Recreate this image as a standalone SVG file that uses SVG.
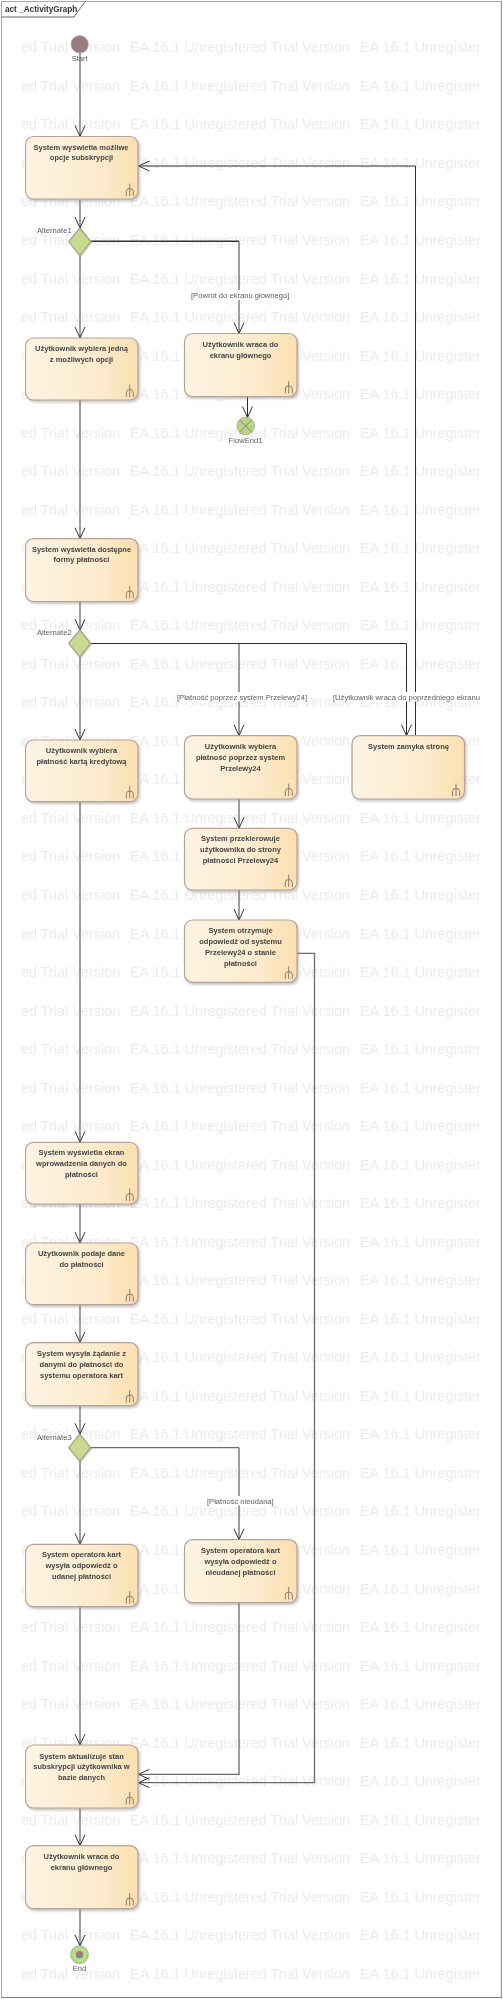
<svg xmlns="http://www.w3.org/2000/svg" width="503" height="1999" viewBox="0 0 503 1999">
<style>
text{font-family:"Liberation Sans",Arial,sans-serif}
.wm{font-family:"Open Sans","Noto Sans",sans-serif;font-size:14.4px;fill:#ebebeb}
.box{fill:url(#g);stroke:#b5a298;stroke-width:1.2;filter:url(#sh)}
.t{font-size:7.5px;font-weight:bold;fill:#444;text-anchor:middle}
.l{font-size:7.6px;fill:#5c5c66}
.m{text-anchor:middle}
.fork{fill:none;stroke:#8d7c72;stroke-width:1}
.c{fill:none;stroke:#6a6a6a;stroke-width:1.3}
.d{fill:none;stroke:#2c2c2c;stroke-width:1}
.h{fill:none;stroke:#333;stroke-width:1.5}
.e{marker-end:url(#a)}
.bg{fill:#fff}
.dia{fill:#c6da90;stroke:#a89f88;stroke-width:1.2;filter:url(#sh2)}
</style>
<defs>
<linearGradient id="g" x1="0" x2="1" y1="0" y2="0"><stop offset="0" stop-color="#fdf4e2"/><stop offset="0.65" stop-color="#fcebcd"/><stop offset="1" stop-color="#fbdfb0"/></linearGradient>
<filter id="sh" x="-10%" y="-10%" width="125%" height="125%"><feDropShadow dx="1.5" dy="2" stdDeviation="1" flood-color="#888" flood-opacity="0.45"/></filter>
<filter id="sh2" x="-20%" y="-20%" width="150%" height="150%"><feDropShadow dx="1" dy="1" stdDeviation="0.7" flood-color="#888" flood-opacity="0.4"/></filter>
<filter id="soft" x="0" y="0" width="100%" height="100%"><feGaussianBlur stdDeviation="0.3"/></filter>
<clipPath id="wc"><rect x="21" y="0" width="461" height="1999"/></clipPath>
<clipPath id="lc"><rect x="0" y="0" width="482" height="1999"/></clipPath>
<marker id="a" markerUnits="userSpaceOnUse" markerWidth="14" markerHeight="14" refX="11.5" refY="6" orient="auto"><path d="M0.5 1 L11.5 6 L0.5 11" fill="none" stroke="#333" stroke-width="1"/></marker>
</defs>
<rect width="503" height="1999" fill="#fff"/>
<g filter="url(#soft)">
<g id="watermark" class="wm" clip-path="url(#wc)">
<text y="52.3"><tspan x="21">ed Trial Version</tspan><tspan x="130">EA 16.1 Unregistered Trial Version</tspan><tspan x="360">EA 16.1 Unregister</tspan></text>
<text y="90.8"><tspan x="21">ed Trial Version</tspan><tspan x="130">EA 16.1 Unregistered Trial Version</tspan><tspan x="360">EA 16.1 Unregister</tspan></text>
<text y="129.4"><tspan x="21">ed Trial Version</tspan><tspan x="130">EA 16.1 Unregistered Trial Version</tspan><tspan x="360">EA 16.1 Unregister</tspan></text>
<text y="167.9"><tspan x="21">ed Trial Version</tspan><tspan x="130">EA 16.1 Unregistered Trial Version</tspan><tspan x="360">EA 16.1 Unregister</tspan></text>
<text y="206.4"><tspan x="21">ed Trial Version</tspan><tspan x="130">EA 16.1 Unregistered Trial Version</tspan><tspan x="360">EA 16.1 Unregister</tspan></text>
<text y="245"><tspan x="21">ed Trial Version</tspan><tspan x="130">EA 16.1 Unregistered Trial Version</tspan><tspan x="360">EA 16.1 Unregister</tspan></text>
<text y="283.5"><tspan x="21">ed Trial Version</tspan><tspan x="130">EA 16.1 Unregistered Trial Version</tspan><tspan x="360">EA 16.1 Unregister</tspan></text>
<text y="322"><tspan x="21">ed Trial Version</tspan><tspan x="130">EA 16.1 Unregistered Trial Version</tspan><tspan x="360">EA 16.1 Unregister</tspan></text>
<text y="360.5"><tspan x="21">ed Trial Version</tspan><tspan x="130">EA 16.1 Unregistered Trial Version</tspan><tspan x="360">EA 16.1 Unregister</tspan></text>
<text y="399.1"><tspan x="21">ed Trial Version</tspan><tspan x="130">EA 16.1 Unregistered Trial Version</tspan><tspan x="360">EA 16.1 Unregister</tspan></text>
<text y="437.6"><tspan x="21">ed Trial Version</tspan><tspan x="130">EA 16.1 Unregistered Trial Version</tspan><tspan x="360">EA 16.1 Unregister</tspan></text>
<text y="476.1"><tspan x="21">ed Trial Version</tspan><tspan x="130">EA 16.1 Unregistered Trial Version</tspan><tspan x="360">EA 16.1 Unregister</tspan></text>
<text y="514.7"><tspan x="21">ed Trial Version</tspan><tspan x="130">EA 16.1 Unregistered Trial Version</tspan><tspan x="360">EA 16.1 Unregister</tspan></text>
<text y="553.2"><tspan x="21">ed Trial Version</tspan><tspan x="130">EA 16.1 Unregistered Trial Version</tspan><tspan x="360">EA 16.1 Unregister</tspan></text>
<text y="591.7"><tspan x="21">ed Trial Version</tspan><tspan x="130">EA 16.1 Unregistered Trial Version</tspan><tspan x="360">EA 16.1 Unregister</tspan></text>
<text y="630.3"><tspan x="21">ed Trial Version</tspan><tspan x="130">EA 16.1 Unregistered Trial Version</tspan><tspan x="360">EA 16.1 Unregister</tspan></text>
<text y="668.8"><tspan x="21">ed Trial Version</tspan><tspan x="130">EA 16.1 Unregistered Trial Version</tspan><tspan x="360">EA 16.1 Unregister</tspan></text>
<text y="707.3"><tspan x="21">ed Trial Version</tspan><tspan x="130">EA 16.1 Unregistered Trial Version</tspan><tspan x="360">EA 16.1 Unregister</tspan></text>
<text y="745.8"><tspan x="21">ed Trial Version</tspan><tspan x="130">EA 16.1 Unregistered Trial Version</tspan><tspan x="360">EA 16.1 Unregister</tspan></text>
<text y="784.4"><tspan x="21">ed Trial Version</tspan><tspan x="130">EA 16.1 Unregistered Trial Version</tspan><tspan x="360">EA 16.1 Unregister</tspan></text>
<text y="822.9"><tspan x="21">ed Trial Version</tspan><tspan x="130">EA 16.1 Unregistered Trial Version</tspan><tspan x="360">EA 16.1 Unregister</tspan></text>
<text y="861.4"><tspan x="21">ed Trial Version</tspan><tspan x="130">EA 16.1 Unregistered Trial Version</tspan><tspan x="360">EA 16.1 Unregister</tspan></text>
<text y="900"><tspan x="21">ed Trial Version</tspan><tspan x="130">EA 16.1 Unregistered Trial Version</tspan><tspan x="360">EA 16.1 Unregister</tspan></text>
<text y="938.5"><tspan x="21">ed Trial Version</tspan><tspan x="130">EA 16.1 Unregistered Trial Version</tspan><tspan x="360">EA 16.1 Unregister</tspan></text>
<text y="977"><tspan x="21">ed Trial Version</tspan><tspan x="130">EA 16.1 Unregistered Trial Version</tspan><tspan x="360">EA 16.1 Unregister</tspan></text>
<text y="1015.6"><tspan x="21">ed Trial Version</tspan><tspan x="130">EA 16.1 Unregistered Trial Version</tspan><tspan x="360">EA 16.1 Unregister</tspan></text>
<text y="1054.1"><tspan x="21">ed Trial Version</tspan><tspan x="130">EA 16.1 Unregistered Trial Version</tspan><tspan x="360">EA 16.1 Unregister</tspan></text>
<text y="1092.6"><tspan x="21">ed Trial Version</tspan><tspan x="130">EA 16.1 Unregistered Trial Version</tspan><tspan x="360">EA 16.1 Unregister</tspan></text>
<text y="1131.1"><tspan x="21">ed Trial Version</tspan><tspan x="130">EA 16.1 Unregistered Trial Version</tspan><tspan x="360">EA 16.1 Unregister</tspan></text>
<text y="1169.7"><tspan x="21">ed Trial Version</tspan><tspan x="130">EA 16.1 Unregistered Trial Version</tspan><tspan x="360">EA 16.1 Unregister</tspan></text>
<text y="1208.2"><tspan x="21">ed Trial Version</tspan><tspan x="130">EA 16.1 Unregistered Trial Version</tspan><tspan x="360">EA 16.1 Unregister</tspan></text>
<text y="1246.7"><tspan x="21">ed Trial Version</tspan><tspan x="130">EA 16.1 Unregistered Trial Version</tspan><tspan x="360">EA 16.1 Unregister</tspan></text>
<text y="1285.3"><tspan x="21">ed Trial Version</tspan><tspan x="130">EA 16.1 Unregistered Trial Version</tspan><tspan x="360">EA 16.1 Unregister</tspan></text>
<text y="1323.8"><tspan x="21">ed Trial Version</tspan><tspan x="130">EA 16.1 Unregistered Trial Version</tspan><tspan x="360">EA 16.1 Unregister</tspan></text>
<text y="1362.3"><tspan x="21">ed Trial Version</tspan><tspan x="130">EA 16.1 Unregistered Trial Version</tspan><tspan x="360">EA 16.1 Unregister</tspan></text>
<text y="1400.9"><tspan x="21">ed Trial Version</tspan><tspan x="130">EA 16.1 Unregistered Trial Version</tspan><tspan x="360">EA 16.1 Unregister</tspan></text>
<text y="1439.4"><tspan x="21">ed Trial Version</tspan><tspan x="130">EA 16.1 Unregistered Trial Version</tspan><tspan x="360">EA 16.1 Unregister</tspan></text>
<text y="1477.9"><tspan x="21">ed Trial Version</tspan><tspan x="130">EA 16.1 Unregistered Trial Version</tspan><tspan x="360">EA 16.1 Unregister</tspan></text>
<text y="1516.4"><tspan x="21">ed Trial Version</tspan><tspan x="130">EA 16.1 Unregistered Trial Version</tspan><tspan x="360">EA 16.1 Unregister</tspan></text>
<text y="1555"><tspan x="21">ed Trial Version</tspan><tspan x="130">EA 16.1 Unregistered Trial Version</tspan><tspan x="360">EA 16.1 Unregister</tspan></text>
<text y="1593.5"><tspan x="21">ed Trial Version</tspan><tspan x="130">EA 16.1 Unregistered Trial Version</tspan><tspan x="360">EA 16.1 Unregister</tspan></text>
<text y="1632"><tspan x="21">ed Trial Version</tspan><tspan x="130">EA 16.1 Unregistered Trial Version</tspan><tspan x="360">EA 16.1 Unregister</tspan></text>
<text y="1670.6"><tspan x="21">ed Trial Version</tspan><tspan x="130">EA 16.1 Unregistered Trial Version</tspan><tspan x="360">EA 16.1 Unregister</tspan></text>
<text y="1709.1"><tspan x="21">ed Trial Version</tspan><tspan x="130">EA 16.1 Unregistered Trial Version</tspan><tspan x="360">EA 16.1 Unregister</tspan></text>
<text y="1747.6"><tspan x="21">ed Trial Version</tspan><tspan x="130">EA 16.1 Unregistered Trial Version</tspan><tspan x="360">EA 16.1 Unregister</tspan></text>
<text y="1786.2"><tspan x="21">ed Trial Version</tspan><tspan x="130">EA 16.1 Unregistered Trial Version</tspan><tspan x="360">EA 16.1 Unregister</tspan></text>
<text y="1824.7"><tspan x="21">ed Trial Version</tspan><tspan x="130">EA 16.1 Unregistered Trial Version</tspan><tspan x="360">EA 16.1 Unregister</tspan></text>
<text y="1863.2"><tspan x="21">ed Trial Version</tspan><tspan x="130">EA 16.1 Unregistered Trial Version</tspan><tspan x="360">EA 16.1 Unregister</tspan></text>
<text y="1901.7"><tspan x="21">ed Trial Version</tspan><tspan x="130">EA 16.1 Unregistered Trial Version</tspan><tspan x="360">EA 16.1 Unregister</tspan></text>
<text y="1940.3"><tspan x="21">ed Trial Version</tspan><tspan x="130">EA 16.1 Unregistered Trial Version</tspan><tspan x="360">EA 16.1 Unregister</tspan></text>
<text y="1978.8"><tspan x="21">ed Trial Version</tspan><tspan x="130">EA 16.1 Unregistered Trial Version</tspan><tspan x="360">EA 16.1 Unregister</tspan></text>
</g>
<g id="frame">
<path d="M1.2 1.2H501.5M1.2 1.2V1998" fill="none" stroke="#aaa" stroke-width="1.6"/>
<path d="M501.5 1.2V1998" fill="none" stroke="#999" stroke-width="1.4"/>
<path d="M1.2 1998H501.5" fill="none" stroke="#555" stroke-width="1.4"/>
<path d="M1.2 17H74L85.3 1.2" fill="none" stroke="#666" stroke-width="1"/>
<text x="5" y="11.7" font-size="8.2" font-weight="bold" fill="#333">act _ActivityGraph</text>
</g>
</g>
<g id="connectors">
<path class="c e" d="M80 53V136.5"/>
<path class="c e" d="M80 199V228"/>
<path class="c e" d="M80 255.5V338"/>
<path class="h" d="M90.5 241.3H239"/>
<path class="c e" d="M239 241.3V333.5"/>
<path class="d e" d="M247.5 396.5V417.5"/>
<path class="c e" d="M80 400V538.7"/>
<path class="c e" d="M80 601.5V630"/>
<path class="c e" d="M80 657V740"/>
<path class="d" d="M90.5 643.5H406.5"/>
<path class="c e" d="M239 643.5V735.7"/>
<path class="d e" d="M406.5 643.5V735.7"/>
<path class="d" d="M415.5 735.7V166"/>
<path class="d e" d="M415.5 166H138.5"/>
<path class="c e" d="M239 799V828.3"/>
<path class="c e" d="M239 890V920"/>
<path class="c e" d="M297 953.3H314.5V1782.7H138.5"/>
<path class="c e" d="M80 801.7V1142.3"/>
<path class="c e" d="M80 1204V1243"/>
<path class="c e" d="M80 1304.7V1342.7"/>
<path class="c e" d="M80 1405.7V1434.3"/>
<path class="c e" d="M80 1461V1544.3"/>
<path class="c" d="M90.5 1447.7H239"/>
<path class="c e" d="M239 1447.7V1539.7"/>
<path class="c e" d="M239 1602.7V1774.3H138.5"/>
<path class="c e" d="M80 1606.7V1745"/>
<path class="c e" d="M80 1808V1845.7"/>
<path class="c e" d="M80 1908.7V1946"/>
</g>
<g filter="url(#soft)">
<g id="connector-labels">
<rect class="bg" x="190" y="290" width="103" height="10"/>
<text class="l" x="191" y="298">[Powrót do ekranu głównego]</text>
<rect class="bg" x="176" y="692" width="132" height="9.5"/>
<text class="l" x="177" y="700">[Płatność poprzez system Przelewy24]</text>
<rect class="bg" x="332" y="692" width="150" height="9.5"/>
<text class="l" x="333" y="700" clip-path="url(#lc)">[Użytkownik wraca do poprzedniego ekranu</text>
<rect class="bg" x="206" y="1496" width="69" height="9.5"/>
<text class="l" x="207" y="1504">[Płatność nieudana]</text>
</g>
<g id="start"><circle cx="79.7" cy="44.3" r="8.7" fill="#977b80" stroke="#b8a8a8" stroke-width="0.8"/><text class="l m" x="79.7" y="61">Start</text></g>
<g id="n1"><rect class="box" x="25.5" y="136.5" width="112.5" height="62.5" rx="8"/><text class="t" x="81" y="149.5">System wyświetla możliwe</text><text class="t" x="81.5" y="160">opcje subskrypcji</text><path class="fork" d="M129.7 183.5V196M126.3 196V191.5Q126.3 188.5 129.7 188.5Q133.3 188.5 133.3 191.5V196"/></g>
<g id="d1"><polygon class="dia" points="79.7,228 90.7,241.5 79.7,255.5 68.7,241.5"/><text class="l" x="37" y="233">Alternate1</text></g>
<g id="n2"><rect class="box" x="25.5" y="338" width="112.5" height="62" rx="8"/><text class="t" x="81.5" y="350.5">Użytkownik wybiera jedną</text><text class="t" x="81.5" y="361.5">z możliwych opcji</text><path class="fork" d="M129.7 384.5V397M126.3 397V392.5Q126.3 389.5 129.7 389.5Q133.3 389.5 133.3 392.5V397"/></g>
<g id="n2b"><rect class="box" x="184.5" y="333.5" width="112.5" height="63" rx="8"/><text class="t" x="240.5" y="346.5">Użytkownik wraca do</text><text class="t" x="240.5" y="357.5">ekranu głównego</text><path class="fork" d="M288.7 381V393.5M285.3 393.5V389Q285.3 386 288.7 386Q292.3 386 292.3 389V393.5"/></g>
<g id="flowend1"><circle cx="245.7" cy="426" r="8.8" fill="#b5d684" stroke="#a8a88c" stroke-width="0.8"/><path d="M239.5 419.8L251.9 432.2M251.9 419.8L239.5 432.2" stroke="#8d7c72" stroke-width="1"/><text class="l m" x="245.5" y="442.5">FlowEnd1</text></g>
<g id="n3"><rect class="box" x="25.5" y="538.7" width="112.5" height="62.8" rx="8"/><text class="t" x="81.5" y="551.5">System wyświetla dostępne</text><text class="t" x="81.5" y="562">formy płatności</text><path class="fork" d="M129.7 586V598.5M126.3 598.5V594Q126.3 591 129.7 591Q133.3 591 133.3 594V598.5"/></g>
<g id="d2"><polygon class="dia" points="79.7,630 90.7,643.3 79.7,657 68.7,643.3"/><text class="l" x="37" y="635">Alternate2</text></g>
<g id="n4"><rect class="box" x="25.5" y="740" width="112.5" height="61.7" rx="8"/><text class="t" x="81.5" y="752.5">Użytkownik wybiera</text><text class="t" x="81.5" y="763.5">płatność kartą kredytową</text><path class="fork" d="M129.7 786V798.5M126.3 798.5V794Q126.3 791 129.7 791Q133.3 791 133.3 794V798.5"/></g>
<g id="n4b"><rect class="box" x="184.5" y="735.7" width="112.5" height="63.3" rx="8"/><text class="t" x="240.5" y="748.5">Użytkownik wybiera</text><text class="t" x="240.5" y="759.5">płatność poprzez system</text><text class="t" x="240.5" y="770.5">Przelewy24</text><path class="fork" d="M288.7 783.5V796M285.3 796V791.5Q285.3 788.5 288.7 788.5Q292.3 788.5 292.3 791.5V796"/></g>
<g id="n4c"><rect class="box" x="352" y="735.7" width="112.5" height="63.3" rx="8"/><text class="t" x="408.5" y="748.5">System zamyka stronę</text><path class="fork" d="M456 783.5V796M452.5 796V791.5Q452.5 788.5 456 788.5Q459.7 788.5 459.7 791.5V796"/></g>
<g id="n5"><rect class="box" x="184.5" y="828.3" width="112.5" height="61.7" rx="8"/><text class="t" x="240.5" y="840.5">System przekierowuje</text><text class="t" x="240.5" y="851.5">użytkownika do strony</text><text class="t" x="240.5" y="862.5">płatności Przelewy24</text><path class="fork" d="M288.7 874.5V887M285.3 887V882.5Q285.3 879.5 288.7 879.5Q292.3 879.5 292.3 882.5V887"/></g>
<g id="n6"><rect class="box" x="184.5" y="920" width="112.5" height="62.3" rx="8"/><text class="t" x="240.5" y="933">System otrzymuje</text><text class="t" x="240.5" y="944">odpowiedź od systemu</text><text class="t" x="240.5" y="955">Przelewy24 o stanie</text><text class="t" x="240.5" y="966">płatności</text><path class="fork" d="M288.7 966.5V979M285.3 979V974.5Q285.3 971.5 288.7 971.5Q292.3 971.5 292.3 974.5V979"/></g>
<g id="n7"><rect class="box" x="25.5" y="1142.3" width="112.5" height="61.7" rx="8"/><text class="t" x="81.5" y="1155">System wyświetla ekran</text><text class="t" x="81.5" y="1166">wprowadzenia danych do</text><text class="t" x="81.5" y="1177">płatności</text><path class="fork" d="M129.7 1188.5V1201M126.3 1201V1196.5Q126.3 1193.5 129.7 1193.5Q133.3 1193.5 133.3 1196.5V1201"/></g>
<g id="n8"><rect class="box" x="25.5" y="1243" width="112.5" height="61.7" rx="8"/><text class="t" x="81.5" y="1255.5">Użytkownik podaje dane</text><text class="t" x="81.5" y="1266.5">do płatności</text><path class="fork" d="M129.7 1289V1301.5M126.3 1301.5V1297Q126.3 1294 129.7 1294Q133.3 1294 133.3 1297V1301.5"/></g>
<g id="n9"><rect class="box" x="25.5" y="1342.7" width="112.5" height="63" rx="8"/><text class="t" x="81.5" y="1356">System wysyła żądanie z</text><text class="t" x="81.5" y="1367">danymi do płatności do</text><text class="t" x="81.5" y="1378">systemu operatora kart</text><path class="fork" d="M129.7 1390V1402.5M126.3 1402.5V1398Q126.3 1395 129.7 1395Q133.3 1395 133.3 1398V1402.5"/></g>
<g id="d3"><polygon class="dia" points="79.7,1434.3 90.7,1447.7 79.7,1461 68.7,1447.7"/><text class="l" x="37" y="1439.5">Alternate3</text></g>
<g id="n10"><rect class="box" x="25.5" y="1544.3" width="112.5" height="62.4" rx="8"/><text class="t" x="81.5" y="1557">System operatora kart</text><text class="t" x="81.5" y="1568">wysyła odpowiedź o</text><text class="t" x="81.5" y="1579">udanej płatności</text><path class="fork" d="M129.7 1591V1603.5M126.3 1603.5V1599Q126.3 1596 129.7 1596Q133.3 1596 133.3 1599V1603.5"/></g>
<g id="n10b"><rect class="box" x="184.5" y="1539.7" width="112.5" height="63" rx="8"/><text class="t" x="240.5" y="1552.8">System operatora kart</text><text class="t" x="240.5" y="1563.8">wysyła odpowiedź o</text><text class="t" x="240.5" y="1574.6">nieudanej płatności</text><path class="fork" d="M288.7 1587V1599.5M285.3 1599.5V1595Q285.3 1592 288.7 1592Q292.3 1592 292.3 1595V1599.5"/></g>
<g id="n11"><rect class="box" x="25.5" y="1745" width="112.5" height="63" rx="8"/><text class="t" x="81.5" y="1758.5">System aktualizuje stan</text><text class="t" x="81.5" y="1769">subskrypcji użytkownika w</text><text class="t" x="81.5" y="1780">bazie danych</text><path class="fork" d="M129.7 1792V1804.5M126.3 1804.5V1800Q126.3 1797 129.7 1797Q133.3 1797 133.3 1800V1804.5"/></g>
<g id="n12"><rect class="box" x="25.5" y="1845.7" width="112.5" height="63" rx="8"/><text class="t" x="81.5" y="1858.5">Użytkownik wraca do</text><text class="t" x="81.5" y="1869.5">ekranu głównego</text><path class="fork" d="M129.7 1893V1905.5M126.3 1905.5V1901Q126.3 1898 129.7 1898Q133.3 1898 133.3 1901V1905.5"/></g>
<g id="end"><circle cx="79.5" cy="1954.7" r="8.8" fill="#b7dc85" stroke="#a8a88c" stroke-width="1"/><circle cx="79.5" cy="1954.7" r="3.6" fill="#977b80"/><text class="l m" x="79.5" y="1971">End</text></g>
</g>
</svg>
